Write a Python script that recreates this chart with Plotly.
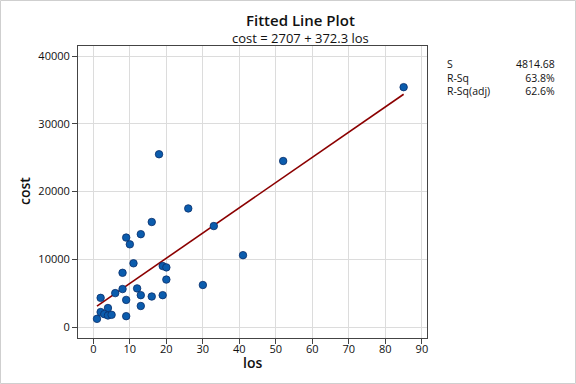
import plotly.graph_objects as go

los = [10, 11, 8, 6, 8, 2, 9, 12, 13, 16, 19, 13, 19, 20, 20, 30, 1, 2, 4, 9,
       3, 4, 5, 18, 26, 16, 13, 9, 33, 85, 52, 41]
cost = [12200, 9400, 8000, 5000, 5600, 4300, 4000, 5700, 4700, 4500, 4700, 3100,
        9000, 8800, 7000, 6200, 1200, 2200, 2800, 1600, 1900, 1700, 1800, 25500,
        17500, 15500, 13700, 13200, 14900, 35400, 24500, 10600]

intercept = 2707
slope = 372.3
x_ticks = [0, 10, 20, 30, 40, 50, 60, 70, 80, 90]
y_ticks = [0, 10000, 20000, 30000, 40000]
stat_labels = ["S", "R-Sq", "R-Sq(adj)"]
stat_values = ["4814.68", "63.8%", "62.6%"]

FONT = "Open Sans, Noto Sans, DejaVu Sans, sans-serif"

xmin, xmax = min(los), max(los)
line_x = [xmin, xmax]
line_y = [intercept + slope * v for v in line_x]

fig = go.Figure()
fig.add_trace(go.Scatter(x=line_x, y=line_y, mode="lines",
                         line=dict(color="#8b0000", width=1.6), hoverinfo="skip"))
fig.add_trace(go.Scatter(x=los, y=cost, mode="markers",
                         marker=dict(color="#0b5cad", size=7.5,
                                     line=dict(color="#0a2f6b", width=0.8))))

W, H = 576, 384
L, R, T, B = 78, 427, 46, 338
PW, PH = R - L, B - T

def px(x):
    return (x - L) / PW

def py(y):
    return 1 - (y - T) / PH

fig.update_layout(
    width=W, height=H,
    margin=dict(l=L, r=W - R, t=T, b=H - B, autoexpand=False),
    paper_bgcolor="white", plot_bgcolor="white",
    showlegend=False,
    font=dict(family=FONT, color="#111111", size=11),
    xaxis=dict(range=[-4.2, 91.4], tickvals=x_ticks, ticks="outside", ticklen=5,
               tickcolor="#444444", showgrid=True, gridcolor="#dcdcdc", gridwidth=1,
               zeroline=False, showline=True, linecolor="#444444", linewidth=1,
               mirror=True, tickfont=dict(size=11, family=FONT), automargin=False,
               ticklabelstandoff=-4),
    yaxis=dict(range=[-1624, 41476], tickvals=y_ticks, tickformat="d", ticks="outside", ticklen=5,
               tickcolor="#444444", showgrid=True, gridcolor="#dcdcdc", gridwidth=1,
               zeroline=False, showline=True, linecolor="#444444", linewidth=1,
               mirror=True, tickfont=dict(size=11, family=FONT), automargin=False),
)

# axis titles
fig.add_annotation(text="los", xref="paper", yref="paper",
                   x=px(252.5), y=py(362), showarrow=False,
                   font=dict(size=14, family=FONT, color="#111111", weight=600),
                   xanchor="center", yanchor="middle")
fig.add_annotation(text="cost", xref="paper", yref="paper",
                   x=px(24), y=py(191), showarrow=False, textangle=-90,
                   font=dict(size=14, family=FONT, color="#111111", weight=600),
                   xanchor="center", yanchor="middle")

fig.add_annotation(text="Fitted Line Plot", xref="paper", yref="paper",
                   x=px(300), y=py(20), showarrow=False,
                   font=dict(size=15, family=FONT, color="#111111", weight=600),
                   xanchor="center", yanchor="middle")
fig.add_annotation(text="cost = 2707 + 372.3 los", xref="paper", yref="paper",
                   x=px(300), y=py(38), showarrow=False,
                   font=dict(size=13, family=FONT, color="#111111"),
                   xanchor="center", yanchor="middle")

fig.add_annotation(text="<br>".join(stat_labels), xref="paper", yref="paper",
                   x=px(445), y=py(55), showarrow=False, align="left",
                   xanchor="left", yanchor="top",
                   font=dict(size=10.5, family=FONT, color="#111111"))
fig.add_annotation(text="<br>".join(stat_values), xref="paper", yref="paper",
                   x=px(557), y=py(55), showarrow=False, align="right",
                   xanchor="right", yanchor="top",
                   font=dict(size=10.5, family=FONT, color="#111111"))

# outer figure border
fig.add_shape(type="rect", xref="paper", yref="paper",
              x0=px(0.5), x1=px(575.5), y0=py(383.5), y1=py(0.5),
              line=dict(color="#cfcfcf", width=1), layer="below")

fig.write_html("out.html", config={"displayModeBar": False},
               post_script="document.body.style.margin='0px';")
